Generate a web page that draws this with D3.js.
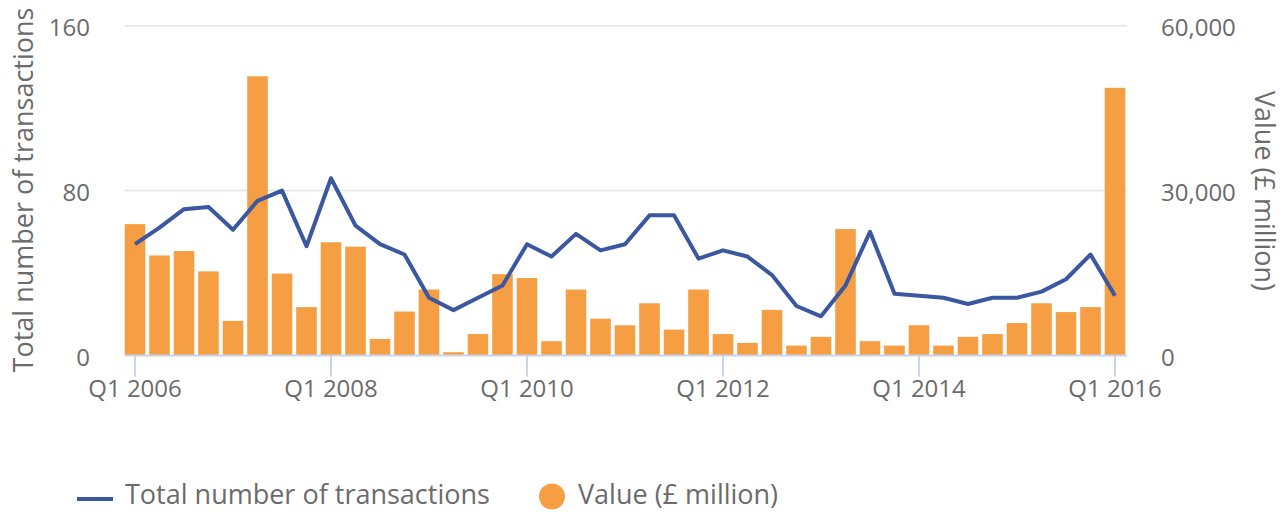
<!DOCTYPE html>
<html>
<head>
<meta charset="utf-8">
<script src="https://cdn.jsdelivr.net/npm/d3@7"></script>
<style>
  body { margin: 0; background: #fff; }
  text { font-family: "Open Sans", sans-serif; fill: #6b6b6b; }
</style>
</head>
<body>
<div id="chart"></div>
<script>
(function mixed_chart() {

  // Q1 2006 .. Q1 2016
  let quarters = [];
  for (let y = 2006; y <= 2016; y++) {
    for (let q = 1; q <= 4; q++) {
      if (y === 2016 && q > 1) break;
      quarters.push(`Q${q} ${y}`);
    }
  }

  let transactions = [54, 62, 71, 72, 61, 75, 80, 53, 86, 63, 54, 49, 28, 22, 28, 34,
    54, 48, 59, 51, 54, 68, 68, 47, 51, 48, 39, 24, 19, 34, 60, 30, 29, 28, 25, 28,
    28, 31, 37, 49, 29];

  let values = [23900, 18200, 19000, 15300, 6300, 50800, 14900, 8800, 20600, 19800, 3000,
    8000, 12000, 600, 3900, 14800, 14100, 2600, 12000, 6700, 5500, 9500, 4700, 12000,
    3900, 2300, 8300, 1800, 3400, 23000, 2600, 1800, 5500, 1800, 3400, 3900, 5900,
    9500, 7900, 8800, 48700];

  let leftTicks = [0, 80, 160],
    rightTicks = [0, 30000, 60000],
    xTicks = ["Q1 2006", "Q1 2008", "Q1 2010", "Q1 2012", "Q1 2014", "Q1 2016"];

  let width = 1285,
    height = 512,
    margin = ({ top: 25.7, right: 158, bottom: 156.5, left: 122.75 });

  const svg = d3.select("#chart")
    .append("svg")
    .attr("width", width)
    .attr("height", height);

  let x = d3.scaleBand()
    .domain(quarters)
    .range([margin.left, width - margin.right + 0.25])
    .paddingInner(0.16)
    .paddingOuter(0.08);

  let yLeft = d3.scaleLinear()
    .domain([0, 160])
    .range([height - margin.bottom, margin.top]);

  let yRight = d3.scaleLinear()
    .domain([0, 60000])
    .range([height - margin.bottom, margin.top]);

  // gridlines
  svg.append("g")
    .selectAll("line")
    .data(leftTicks.slice(1))
    .join("line")
    .attr("x1", margin.left + 2)
    .attr("x2", width - margin.right)
    .attr("y1", d => yLeft(d))
    .attr("y2", d => yLeft(d))
    .attr("stroke", "#e4e4e4")
    .attr("stroke-width", 1.5);

  // left axis labels
  svg.append("g")
    .selectAll("text")
    .data(leftTicks)
    .join("text")
    .attr("x", 90)
    .attr("y", d => yLeft(d) + 10.3)
    .attr("text-anchor", "end")
    .attr("font-size", 24)
    .text(d => d);

  // right axis labels
  svg.append("g")
    .selectAll("text")
    .data(rightTicks)
    .join("text")
    .attr("x", 1161)
    .attr("y", d => yRight(d) + 10.3)
    .attr("font-size", 24)
    .text(d => d3.format(",")(d));

  // bars
  svg.append("g")
    .selectAll("rect")
    .data(values)
    .join("rect")
    .attr("x", (d, i) => x(quarters[i]))
    .attr("width", x.bandwidth())
    .attr("y", d => yRight(d))
    .attr("height", d => yRight(0) - yRight(d))
    .attr("fill", "#f59e43");

  // x axis
  let xAxis = svg.append("g")
    .attr("transform", `translate(0,${height - margin.bottom})`)
    .call(d3.axisBottom(x).tickValues(xTicks).tickSize(21).tickPadding(3.5));

  xAxis.select(".domain")
    .attr("stroke", "#c9d5ea")
    .attr("stroke-width", 2)
    .attr("d", `M${margin.left + 2},0H${width - margin.right}`);
  xAxis.selectAll(".tick line")
    .attr("stroke", "#c9d5ea")
    .attr("stroke-width", 2);
  xAxis.selectAll(".tick text")
    .attr("font-size", 24)
    .attr("font-family", "Open Sans, sans-serif")
    .attr("fill", "#6b6b6b");

  // line
  let line = d3.line()
    .x((d, i) => x(quarters[i]) + x.bandwidth() / 2)
    .y(d => yLeft(d));

  svg.append("path")
    .datum(transactions)
    .attr("fill", "none")
    .attr("stroke", "#3a57a0")
    .attr("stroke-width", 4)
    .attr("stroke-linejoin", "round")
    .attr("d", line);

  // axis titles
  svg.append("text")
    .attr("transform", "translate(33,190) rotate(-90)")
    .attr("text-anchor", "middle")
    .attr("font-size", 27)
    .text("Total number of transactions");

  svg.append("text")
    .attr("transform", "translate(1255,191) rotate(90)")
    .attr("text-anchor", "middle")
    .attr("font-size", 27)
    .text("Value (£ million)");

  // legend
  let legend = svg.append("g");

  legend.append("line")
    .attr("x1", 77)
    .attr("x2", 113)
    .attr("y1", 499)
    .attr("y2", 499)
    .attr("stroke", "#3a57a0")
    .attr("stroke-width", 4);

  legend.append("text")
    .attr("x", 125)
    .attr("y", 504)
    .attr("font-size", 27)
    .text("Total number of transactions");

  legend.append("circle")
    .attr("cx", 552)
    .attr("cy", 496.5)
    .attr("r", 13)
    .attr("fill", "#f59e43");

  legend.append("text")
    .attr("x", 578)
    .attr("y", 504)
    .attr("font-size", 27)
    .text("Value (£ million)");

})();
</script>
</body>
</html>
